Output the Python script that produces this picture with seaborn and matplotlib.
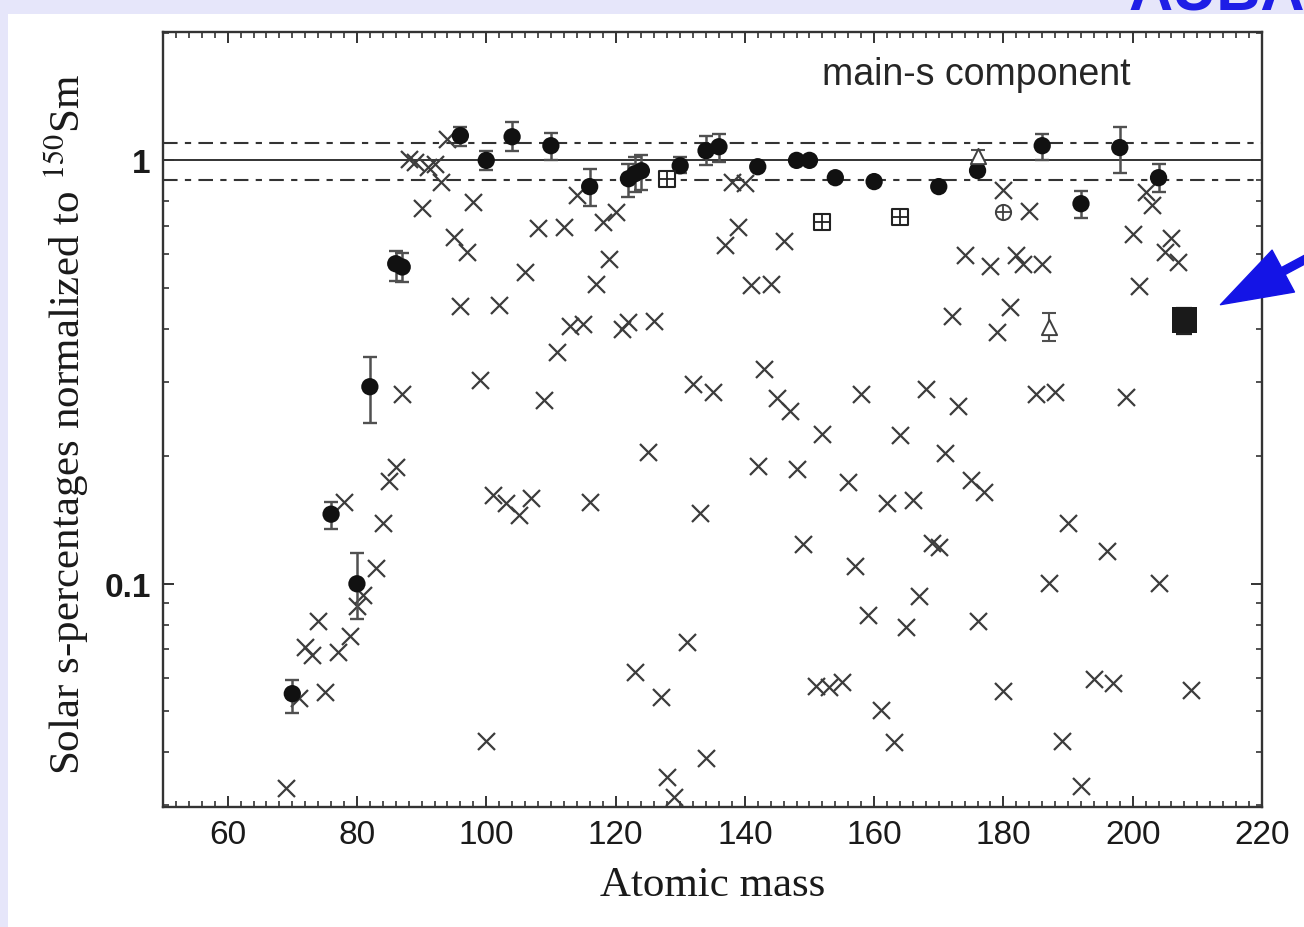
import numpy as np
import matplotlib
matplotlib.use("Agg")
import matplotlib.pyplot as plt
from matplotlib.patches import Rectangle, FancyArrowPatch, ArrowStyle
from matplotlib.ticker import FixedLocator, LogLocator, NullFormatter, MultipleLocator
import seaborn as sns

# s-only / other isotopes (crosses): atomic mass and normalised s-fraction
cross_mass = [69, 71, 72, 73, 74, 75, 77, 78, 79, 80, 81, 83, 84, 85, 86, 87,
              88, 89, 90, 91, 92, 93, 94, 95, 96, 97, 98, 99, 100, 101, 102,
              103, 105, 106, 107, 108, 109, 111, 112, 113, 114, 115, 116, 117,
              118, 119, 120, 121, 122, 123, 125, 126, 127, 128, 129, 131, 132,
              133, 134, 135, 137, 138, 139, 140, 141, 142, 143, 144, 145, 146,
              147, 148, 149, 151, 152, 153, 155, 156, 157, 158, 159, 161, 162,
              163, 164, 165, 166, 167, 168, 169, 170, 171, 172, 173, 174, 175,
              176, 177, 178, 179, 180, 180, 181, 182, 183, 184, 185, 186, 187,
              188, 189, 190, 192, 194, 196, 197, 199, 200, 201, 202, 203, 204,
              205, 206, 207, 209]
cross_frac = [0.0329, 0.0538, 0.0710, 0.0680, 0.0818, 0.0556, 0.0691, 0.156,
              0.0754, 0.0887, 0.0942, 0.109, 0.139, 0.175, 0.189, 0.280,
              1.009, 0.993, 0.773, 0.966, 0.982, 0.891, 1.125, 0.660, 0.454,
              0.608, 0.799, 0.303, 0.0426, 0.162, 0.456, 0.155, 0.145, 0.546,
              0.159, 0.694, 0.271, 0.353, 0.697, 0.407, 0.830, 0.410, 0.156,
              0.511, 0.716, 0.586, 0.756, 0.400, 0.416, 0.0619, 0.205, 0.418,
              0.0541, 0.0350, 0.0314, 0.0730, 0.297, 0.147, 0.0388, 0.284,
              0.632, 0.891, 0.697, 0.886, 0.509, 0.190, 0.322, 0.511, 0.274,
              0.646, 0.256, 0.187, 0.124, 0.0574, 0.226, 0.0571, 0.0587, 0.174,
              0.110, 0.281, 0.0845, 0.0504, 0.155, 0.0423, 0.225, 0.0791, 0.158,
              0.0937, 0.289, 0.125, 0.122, 0.204, 0.430, 0.263, 0.599, 0.176,
              0.0818, 0.165, 0.564, 0.394, 0.853, 0.0559, 0.451, 0.599, 0.570,
              0.760, 0.280, 0.570, 0.1005, 0.284, 0.0426, 0.139, 0.0333, 0.0597,
              0.1197, 0.0584, 0.2765, 0.671, 0.506, 0.843, 0.786, 0.1005, 0.608,
              0.657, 0.576, 0.0562]

# s-only isotopes (filled circles) with lower / upper uncertainty limits
sonly_mass = [70, 76, 80, 82, 86, 87, 96, 100, 104, 110, 116, 122, 123, 124,
              130, 134, 136, 142, 148, 150, 154, 160, 170, 176, 186, 192, 198, 204]
sonly_frac = [0.055, 0.146, 0.100, 0.292, 0.570, 0.560, 1.144, 1.000, 1.137,
              1.083, 0.867, 0.905, 0.930, 0.945, 0.971, 1.054, 1.077, 0.966,
              1.000, 1.000, 0.910, 0.891, 0.867, 0.946, 1.083, 0.790, 1.072, 0.910]
sonly_lo = [0.0496, 0.135, 0.0827, 0.240, 0.520, 0.515, 1.08, 0.95, 1.05,
            1.00, 0.78, 0.82, 0.84, 0.85, 0.935, 0.977, 0.993, 0.966,
            1.000, 1.000, 0.910, 0.891, 0.867, 0.946, 1.00, 0.732, 0.935, 0.843]
sonly_hi = [0.0594, 0.156, 0.118, 0.344, 0.612, 0.605, 1.20, 1.055, 1.23,
            1.16, 0.956, 0.98, 1.02, 1.03, 1.02, 1.14, 1.157, 0.966,
            1.000, 1.000, 0.910, 0.891, 0.867, 0.946, 1.156, 0.848, 1.20, 0.982]

# other marked isotopes
boxplus_mass = [128, 152, 164]
boxplus_frac = [0.905, 0.716, 0.736]
oplus_mass = [180]
oplus_frac = [0.756]
tri_mass = [176, 187]
tri_frac = [1.026, 0.405]
tri_lo = [0.99, 0.375]
tri_hi = [1.06, 0.437]
pb_mass = [208]
pb_frac = [0.42]
pb_lo = [0.39]
pb_hi = [0.448]

x_ticks = [60, 80, 100, 120, 140, 160, 180, 200, 220]
y_ticks = [0.1, 1]
y_tick_labels = ["0.1", "1"]

sns.set_style("ticks")
plt.rcParams["font.family"] = ["Liberation Sans", "DejaVu Sans"]
plt.rcParams["mathtext.fontset"] = "stix"

W, H = 1304, 928
fig = plt.figure(figsize=(W / 100, H / 100), dpi=100, facecolor="#E6E6FA")
fig.patches.append(Rectangle((8 / W, 0), 1, 1 - 15 / H, transform=fig.transFigure,
                             facecolor="white", edgecolor="none", zorder=-5))

ax = fig.add_axes([163 / W, 1 - 808 / H, 1099 / W, 775 / H])
ax.set_facecolor("white")
ax.set_yscale("log")

ink = "#333333"
# reference band around unity
ax.axhline(1.0, color=ink, lw=1.4, zorder=1)
for lvl in (1.1, 0.9):
    ax.axhline(lvl, color=ink, lw=1.5, ls=(0, (7, 3.5, 3, 3.5)), zorder=1)

sns.scatterplot(x=cross_mass, y=cross_frac, ax=ax, marker="x", s=150,
                color="#3c3c3c", linewidth=1.6, zorder=2, legend=False)

sf = np.array(sonly_frac)
ax.errorbar(sonly_mass, sf, yerr=[sf - np.array(sonly_lo), np.array(sonly_hi) - sf],
            fmt="none", ecolor="#505050", elinewidth=1.8, capsize=5, capthick=1.7, zorder=3)
sns.scatterplot(x=sonly_mass, y=sonly_frac, ax=ax, marker="o", s=155,
                color="#111111", edgecolor="none", zorder=4, legend=False)

tf = np.array(tri_frac)
ax.errorbar(tri_mass, tf, yerr=[tf - np.array(tri_lo), np.array(tri_hi) - tf],
            fmt="none", ecolor="#505050", elinewidth=1.5, capsize=5, capthick=1.5, zorder=3)
sns.scatterplot(x=tri_mass, y=tri_frac, ax=ax, marker="^", s=120,
                facecolor="white", edgecolor="#404040", linewidth=1.4, zorder=4, legend=False)

sns.scatterplot(x=boxplus_mass, y=boxplus_frac, ax=ax, marker="s", s=130,
                facecolor="white", edgecolor="#222222", linewidth=1.5, zorder=4, legend=False)
sns.scatterplot(x=boxplus_mass, y=boxplus_frac, ax=ax, marker="+", s=130,
                color="#222222", linewidth=1.3, zorder=5, legend=False)
sns.scatterplot(x=oplus_mass, y=oplus_frac, ax=ax, marker="o", s=120,
                facecolor="white", edgecolor="#404040", linewidth=1.4, zorder=4, legend=False)
sns.scatterplot(x=oplus_mass, y=oplus_frac, ax=ax, marker="+", s=120,
                color="#404040", linewidth=1.3, zorder=5, legend=False)

pf = np.array(pb_frac)
ax.errorbar(pb_mass, pf, yerr=[pf - np.array(pb_lo), np.array(pb_hi) - pf],
            fmt="none", ecolor="#222222", elinewidth=1.6, capsize=6, capthick=1.6, zorder=3)
sns.scatterplot(x=pb_mass, y=pb_frac, ax=ax, marker="s", s=340,
                color="#1a1a1a", edgecolor="none", zorder=4, legend=False)

ax.set_xlim(50, 220)
ax.set_ylim(0.0297, 2.01)
ax.xaxis.set_major_locator(FixedLocator(x_ticks))
ax.xaxis.set_minor_locator(MultipleLocator(2))
ax.yaxis.set_major_locator(FixedLocator(y_ticks))
ax.set_yticklabels(y_tick_labels)
ax.yaxis.set_minor_locator(LogLocator(base=10, subs=np.arange(2, 10)))
ax.yaxis.set_minor_formatter(NullFormatter())

ax.tick_params(which="both", direction="in", top=True, right=True, colors=ink)
ax.tick_params(which="major", length=8, width=1.4, labelsize=24, pad=9, labelcolor="#1a1a1a")
ax.tick_params(which="minor", length=4.5, width=1.2)
for lbl in ax.get_yticklabels():
    lbl.set_fontweight("semibold")
for sp in ax.spines.values():
    sp.set_color(ink)
    sp.set_linewidth(1.7)

ax.set_xlabel("")
ax.set_ylabel("")
ax.text(0.74, 0.946, "main-s component", transform=ax.transAxes, ha="center",
        va="center", fontsize=27, color="#262626")

fig.text(66 / W, 1 - 425 / H, "Solar s-percentages normalized to $^{150}$Sm",
         rotation=90, ha="center", va="center", fontsize=31,
         family="Liberation Serif", color="#1a1a1a")
fig.text(713 / W, 1 - 886 / H, "Atomic mass", ha="center", va="center",
         fontsize=31, family="Liberation Serif", color="#1a1a1a")

# slide annotation arrow pointing at the 208Pb point
arrow = FancyArrowPatch(posA=(1.01, 1 - 254 / H), posB=(1218 / W, 1 - 307 / H),
                        transform=fig.transFigure,
                        arrowstyle=ArrowStyle.Simple(head_length=1.35, head_width=0.9, tail_width=0.15),
                        mutation_scale=38, color="#1414E6", clip_on=False, zorder=10)
fig.patches.append(arrow)
fig.text(1128 / W, 1 - 10 / H, "AUBA", color="#1E1EE6", fontsize=44,
         fontweight="bold", ha="left", va="baseline")

fig.savefig("out.png", dpi=100, facecolor=fig.get_facecolor())
